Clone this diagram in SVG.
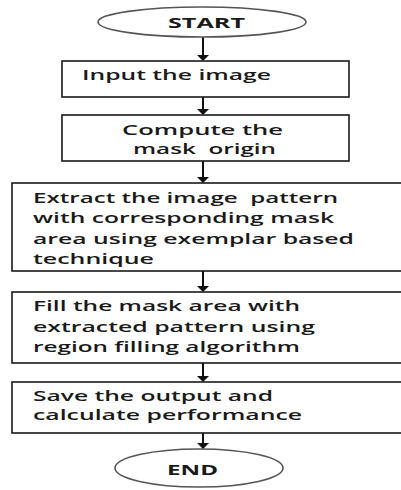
<svg xmlns="http://www.w3.org/2000/svg" width="401" height="490" viewBox="0 0 401 490">
<defs>
<style>
.box{fill:#fff;stroke:#1a1a1a;stroke-width:1.6}
.oval{fill:#fff;stroke:#555;stroke-width:1.6}
.t{font-family:"Open Sans","Liberation Sans",sans-serif;font-size:15px;font-weight:600;fill:#1a1a1a;white-space:pre}
.b{font-weight:bold}
.ln{stroke:#111;stroke-width:2;fill:none}
.ah{fill:#111}
</style>
</defs>
<rect width="401" height="490" fill="#fff"/>
<g id="connectors">
<line class="ln" x1="203" y1="37" x2="203" y2="56"/><polygon class="ah" points="197,55 209,55 203,61"/>
<line class="ln" x1="203" y1="97" x2="203" y2="110"/><polygon class="ah" points="197,109 209,109 203,115"/>
<line class="ln" x1="203" y1="161" x2="203" y2="178"/><polygon class="ah" points="197,177 209,177 203,183"/>
<line class="ln" x1="203" y1="271" x2="203" y2="287"/><polygon class="ah" points="197,286 209,286 203,292"/>
<line class="ln" x1="203" y1="363" x2="203" y2="377"/><polygon class="ah" points="197,376 209,376 203,382"/>
<line class="ln" x1="203" y1="433" x2="203" y2="444"/><polygon class="ah" points="197,443 209,443 203,449"/>
</g>
<g id="start">
<ellipse class="oval" cx="202" cy="22" rx="104" ry="15"/>
<text class="t b" x="168" y="28" textLength="77" lengthAdjust="spacingAndGlyphs">START</text>
</g>
<g id="input">
<rect class="box" x="62" y="61" width="287" height="36"/>
<text class="t" x="82" y="80" textLength="189" lengthAdjust="spacingAndGlyphs">Input the image</text>
</g>
<g id="compute">
<rect class="box" x="62" y="115" width="287" height="46"/>
<text class="t" x="122" y="135" textLength="161" lengthAdjust="spacingAndGlyphs">Compute the</text>
<text class="t" x="133" y="154" textLength="143" lengthAdjust="spacingAndGlyphs">mask  origin</text>
</g>
<g id="extract">
<rect class="box" x="12" y="183" width="400" height="88"/>
<text class="t" x="33" y="203" textLength="305" lengthAdjust="spacingAndGlyphs">Extract the image  pattern</text>
<text class="t" x="33" y="223" textLength="301" lengthAdjust="spacingAndGlyphs">with corresponding mask</text>
<text class="t" x="33" y="244" textLength="321" lengthAdjust="spacingAndGlyphs">area using exemplar based</text>
<text class="t" x="33" y="264" textLength="121" lengthAdjust="spacingAndGlyphs">technique</text>
</g>
<g id="fill">
<rect class="box" x="12" y="292" width="400" height="71"/>
<text class="t" x="33" y="311" textLength="267" lengthAdjust="spacingAndGlyphs">Fill the mask area with</text>
<text class="t" x="33" y="332" textLength="282" lengthAdjust="spacingAndGlyphs">extracted pattern using</text>
<text class="t" x="33" y="352" textLength="267" lengthAdjust="spacingAndGlyphs">region filling algorithm</text>
</g>
<g id="save">
<rect class="box" x="12" y="382" width="400" height="51"/>
<text class="t" x="33" y="401" textLength="240" lengthAdjust="spacingAndGlyphs">Save the output and</text>
<text class="t" x="33" y="420" textLength="269" lengthAdjust="spacingAndGlyphs">calculate performance</text>
</g>
<g id="end">
<ellipse class="oval" cx="199" cy="468" rx="84" ry="19"/>
<text class="t b" x="167" y="475" textLength="51" lengthAdjust="spacingAndGlyphs">END</text>
</g>
</svg>
